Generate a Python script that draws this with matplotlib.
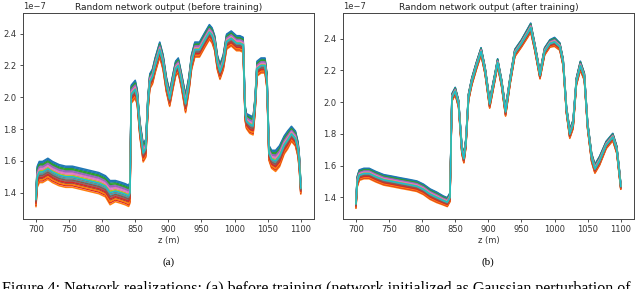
import numpy as np
import matplotlib
matplotlib.use("Agg")
import matplotlib.pyplot as plt

# ---- data (values in units of 1e-7) ----
z_before = [700, 702, 705, 710, 718, 725, 735, 745, 755, 765, 775, 785, 795, 805, 812,
            820, 828, 835, 840, 842, 844, 846, 850, 853, 857, 862, 866, 869, 872, 876,
            880, 887, 892, 897, 902, 907, 911, 915, 920, 926, 931, 935, 940, 947, 955,
            962, 966, 970, 974, 978, 983, 988, 995, 1003, 1008, 1013, 1016, 1018, 1023,
            1028, 1031, 1034, 1040, 1046, 1049, 1052, 1056, 1062, 1068, 1075, 1080, 1086,
            1092, 1096, 1098, 1100]
mean_before = [1.36, 1.50, 1.53, 1.53, 1.55, 1.53, 1.51, 1.50, 1.50, 1.49, 1.48, 1.47, 1.46,
               1.44, 1.40, 1.41, 1.40, 1.39, 1.38, 1.40, 2.02, 2.03, 2.05, 2.00, 1.80, 1.65,
               1.68, 1.95, 2.10, 2.13, 2.20, 2.30, 2.22, 2.08, 1.99, 2.10, 2.18, 2.20, 2.10,
               1.96, 2.08, 2.22, 2.30, 2.30, 2.36, 2.41, 2.39, 2.34, 2.22, 2.16, 2.22, 2.35,
               2.37, 2.34, 2.34, 2.33, 1.90, 1.85, 1.83, 1.82, 1.95, 2.18, 2.20, 2.20, 2.10,
               1.65, 1.61, 1.60, 1.63, 1.70, 1.73, 1.77, 1.74, 1.67, 1.58, 1.43]
spread_before = [0.05, 0.07, 0.07, 0.07, 0.07, 0.07, 0.07, 0.07, 0.07, 0.07, 0.07, 0.07, 0.07,
                 0.07, 0.08, 0.07, 0.07, 0.07, 0.07, 0.07, 0.06, 0.06, 0.06, 0.05, 0.05, 0.06,
                 0.06, 0.05, 0.05, 0.05, 0.05, 0.05, 0.05, 0.05, 0.05, 0.05, 0.05, 0.05, 0.05,
                 0.06, 0.05, 0.05, 0.05, 0.05, 0.05, 0.05, 0.05, 0.05, 0.05, 0.05, 0.05, 0.05,
                 0.05, 0.05, 0.05, 0.05, 0.05, 0.05, 0.06, 0.06, 0.05, 0.05, 0.05, 0.05, 0.05,
                 0.05, 0.06, 0.07, 0.07, 0.06, 0.06, 0.05, 0.05, 0.05, 0.05, 0.04]

z_after = [700, 702, 705, 712, 720, 730, 742, 755, 767, 780, 792, 802, 812, 822, 832, 838,
           842, 845, 850, 855, 860, 863, 866, 870, 875, 882, 889, 895, 902, 910, 914, 920,
           926, 933, 940, 950, 960, 964, 970, 978, 985, 993, 1000, 1008, 1013, 1018, 1023,
           1028, 1033, 1039, 1045, 1050, 1056, 1061, 1068, 1078, 1088, 1094, 1098, 1100]
mean_after = [1.36, 1.50, 1.54, 1.55, 1.55, 1.53, 1.51, 1.50, 1.49, 1.48, 1.47, 1.45, 1.42,
              1.40, 1.38, 1.37, 1.40, 2.03, 2.07, 1.99, 1.70, 1.645, 1.74, 2.03, 2.13, 2.23,
              2.32, 2.20, 1.99, 2.16, 2.25, 2.12, 1.94, 2.14, 2.31, 2.37, 2.44, 2.47, 2.35,
              2.17, 2.32, 2.37, 2.38, 2.35, 2.25, 1.95, 1.80, 1.86, 2.13, 2.23, 2.16, 1.85,
              1.65, 1.58, 1.63, 1.73, 1.78, 1.70, 1.55, 1.47]
spread_after = [0.03, 0.035, 0.035, 0.035, 0.035, 0.035, 0.035, 0.035, 0.035, 0.035, 0.035,
                0.035, 0.035, 0.035, 0.03, 0.03, 0.03, 0.025, 0.025, 0.025, 0.03, 0.03, 0.03,
                0.025, 0.025, 0.025, 0.025, 0.025, 0.03, 0.025, 0.025, 0.025, 0.03, 0.025,
                0.025, 0.025, 0.03, 0.03, 0.025, 0.025, 0.025, 0.025, 0.03, 0.025, 0.025,
                0.025, 0.03, 0.03, 0.025, 0.03, 0.025, 0.025, 0.03, 0.03, 0.03, 0.025, 0.025,
                0.025, 0.025, 0.02]

# position of each plotted realization inside the band (fraction of half-width)
member_offsets = [0.95, -0.95, 0.75, -0.8, 0.55, -0.6, 0.35, -0.4, 0.15, -0.2,
                  0.85, -0.7, 0.65, -0.5, 0.45, -0.3, 0.25, -0.1, 0.05, 0.0]

titles = ["Random network output (before training)", "Random network output (after training)"]
captions = ["(a)", "(b)"]
fig_caption = ("Figure 4: Network realizations: (a) before training "
               "(network initialized as Gaussian perturbation of")
xticks = [700, 750, 800, 850, 900, 950, 1000, 1050, 1100]
yticks = [1.4, 1.6, 1.8, 2.0, 2.2, 2.4]
ylims = [(1.234, 2.532), (1.263, 2.564)]

fig = plt.figure(figsize=(6.4, 2.89), dpi=100)
axes_pos = [[0.0355, 0.242, 0.4551, 0.714], [0.5355, 0.242, 0.4551, 0.714]]
datasets = [(z_before, mean_before, spread_before), (z_after, mean_after, spread_after)]
colors = plt.rcParams['axes.prop_cycle'].by_key()['color']

for i, (pos, (z, m, s)) in enumerate(zip(axes_pos, datasets)):
    ax = fig.add_axes(pos)
    z = np.asarray(z, float)
    m = np.asarray(m, float)
    s = np.asarray(s, float)
    for k, off in enumerate(member_offsets):
        ax.plot(z, (m + off * s) * 1e-7, color=colors[k % len(colors)], lw=1.1)
    ax.set_xlim(680, 1120)
    ax.set_ylim(ylims[i][0] * 1e-7, ylims[i][1] * 1e-7)
    ax.set_xticks(xticks)
    ax.set_yticks([v * 1e-7 for v in yticks])
    ax.tick_params(labelsize=6, length=2.5, width=0.6, colors='#333333', pad=2)
    ax.yaxis.get_offset_text().set_fontsize(6)
    ax.yaxis.get_offset_text().set_color('#333333')
    for sp in ax.spines.values():
        sp.set_linewidth(0.7)
        sp.set_color('#444444')
    ax.set_title(titles[i], fontsize=6.5, pad=2, color='#222222')
    ax.set_xlabel("z (m)", fontsize=6, labelpad=1, color='#333333')
    cx = pos[0] + pos[2] / 2
    fig.text(cx, 1 - 262 / 289, captions[i], ha='center', va='center',
             fontsize=8, family='Liberation Serif')

fig.text(0.0025, -0.015, fig_caption, ha='left', va='baseline',
         fontsize=11.5, family='Liberation Serif')

fig.savefig("out.png", dpi=100)
